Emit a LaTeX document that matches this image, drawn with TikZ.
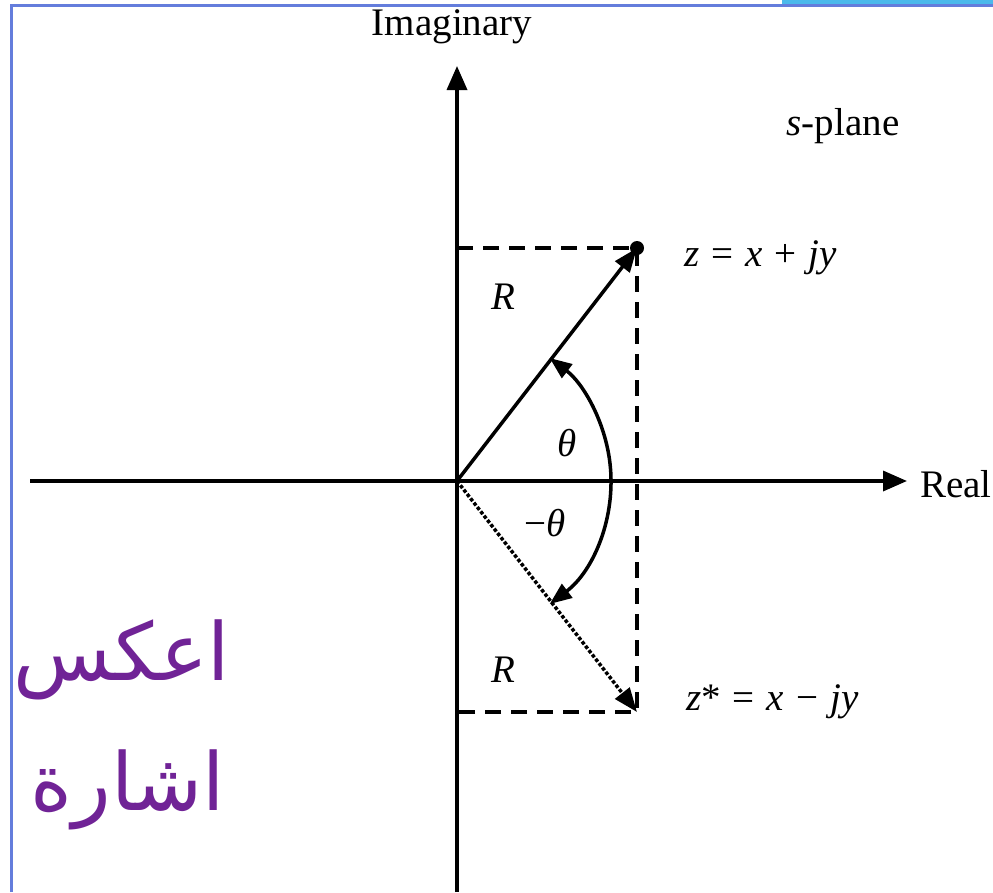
\documentclass[tikz,border=0pt]{standalone}
\usepackage{fontspec}
\setmainfont{Liberation Serif}
\newfontfamily\arabicfont[Script=Arabic]{DejaVu Sans}
\TeXXeTstate=1
\usetikzlibrary{arrows.meta}
\definecolor{frameblue}{RGB}{100,125,220}
\definecolor{barblue}{RGB}{75,185,235}
\definecolor{inkpurple}{RGB}{112,35,150}
\newcommand{\opgap}{\hspace{12pt}}
\tikzset{
  axis/.style={line width=3.5pt,-{Triangle[length=24pt,width=20pt]}},
  vec/.style={line width=3.5pt,-{Triangle[length=24pt,width=18pt]}},
  dashbox/.style={line width=3.5pt,dash pattern=on 16pt off 10pt},
  lbl/.style={font=\fontsize{39}{42}\selectfont,inner sep=0pt},
}
\begin{document}
\begin{tikzpicture}[x=1pt,y=-1pt]
\useasboundingbox (0,0) rectangle (993,892);
% frame
\draw[frameblue,line width=3pt] (11,892) -- (11,5) -- (993,5);
\fill[barblue] (782,0) rectangle (993,4);
% coordinates
\coordinate (O) at (457,481);
\coordinate (xl) at (30,481);
\coordinate (xr) at (907,481);
\coordinate (yb) at (457,892);
\coordinate (yt) at (457,66);
\coordinate (Z) at (637,248);
\coordinate (Zs) at (637,712);
\coordinate (Zy) at (457,248);
\coordinate (Zsy) at (457,712);
% axes
\draw[axis] (xl) -- (xr);
\draw[axis] (yb) -- (yt);
% dashed box
\draw[dashbox] (Zy) -- (Z) -- (Zs) -- (Zsy);
% vectors
\draw[vec] (O) -- (Z);
\fill (Z) circle (7pt);
\draw[vec,dotted] (O) -- (Zs);
% arc
\draw[line width=3.5pt,{Triangle[length=22pt,width=17pt]}-{Triangle[length=22pt,width=17pt]}] (O) ++(53:154) arc[start angle=53,end angle=-53,radius=154];
% labels
\node[lbl] (imag) at (452,27) {Imaginary};
\node[lbl] (real) at (956,484) {Real};
\node[lbl] (splane) at (843,126) {\textit{s}-plane};
\node[lbl,anchor=west] (zl) at (684,258) {\textit{z}\opgap=\opgap\textit{x}\opgap+\opgap\textit{jy}};
\node[lbl,anchor=west] (zsl) at (686,702) {\textit{z}*\opgap=\opgap\textit{x}\opgap−\opgap\textit{jy}};
\node[lbl] (R1) at (503,297) {\textit{R}};
\node[lbl] (R2) at (503,670) {\textit{R}};
\node[lbl] (th) at (567,443) {\textit{θ}};
\node[lbl] (mth) at (545,523) {−\textit{θ}};
% handwriting
\node[inkpurple,font=\arabicfont\fontsize{80}{90}\selectfont,inner sep=0pt] (hw1) at (122,660) {\beginR اعكس\endR};
\node[inkpurple,font=\arabicfont\fontsize{80}{90}\selectfont,inner sep=0pt] (hw2) at (128,790) {\beginR اشارة\endR};
\end{tikzpicture}
\end{document}
